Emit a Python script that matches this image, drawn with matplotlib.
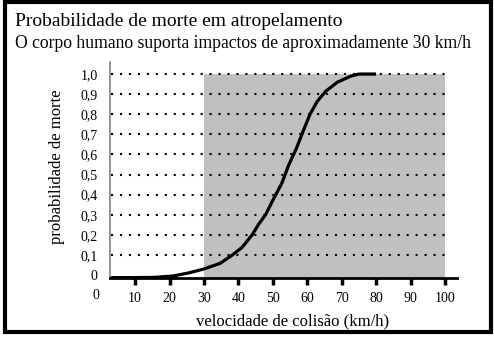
import matplotlib.pyplot as plt
from matplotlib.patches import Rectangle
from matplotlib.transforms import blended_transform_factory

# Datos
velocidade = [3, 10, 15.5, 21, 25.5, 30, 34.7, 38.3, 41.1, 44, 45.9, 47.9, 50, 52.6, 54.6,
              56.9, 58.9, 60.8, 62.9, 65.4, 68.8, 72.7, 75, 80]
probabilidade = [-0.013, -0.013, -0.012, -0.005, 0.01, 0.03, 0.058, 0.1, 0.138, 0.2, 0.253, 0.3,
                 0.372, 0.456, 0.547, 0.632, 0.72, 0.8, 0.864, 0.915, 0.96, 0.99, 1.0, 1.0]
faixa_perigo = (30, 100)
niveis = [0.1, 0.2, 0.3, 0.4, 0.5, 0.6, 0.7, 0.8, 0.9, 1.0]
rotulos_y = ["0", "0,1", "0,2", "0,3", "0,4", "0,5", "0,6", "0,7", "0,8", "0,9", "1,0"]
ticks_x = [10, 20, 30, 40, 50, 60, 70, 80, 90, 100]

plt.rcParams['font.family'] = ['Liberation Serif', 'DejaVu Serif']

W, H = 494, 338
fig = plt.figure(figsize=(W / 100, H / 100), dpi=100)
ax = fig.add_axes([110 / W, (H - 278) / H, 347 / W, 216 / H])

ax.set_xlim(2.7, 103.5)
ax.set_ylim(-0.015, 1.06)

# zona sombreada (> 30 km/h)
ax.fill_between(faixa_perigo, -0.015, 1.0, color='#c0c0c0', lw=0, zorder=0)

# líneas punteadas
for n in niveis:
    ax.plot([3, 100.5], [n, n], color='black', lw=1.5, linestyle=(0, (1, 3.3)), zorder=1)

# curva
ax.plot(velocidade, probabilidade, color='black', lw=2.3, solid_joinstyle='round',
        solid_capstyle='butt', zorder=3)

# ejes
for lado in ['top', 'right']:
    ax.spines[lado].set_visible(False)
ax.spines['left'].set_color('#808080')
ax.spines['left'].set_linewidth(1.2)
ax.spines['bottom'].set_color('black')
ax.spines['bottom'].set_linewidth(2)

ax.set_xticks(ticks_x)
ax.set_xticklabels([str(t) for t in ticks_x], fontsize=10)
ax.tick_params(axis='x', direction='out', length=5, width=2.5, pad=5)
ax.set_yticks([0] + niveis)
ax.set_yticklabels(rotulos_y, fontsize=10)
ax.tick_params(axis='y', length=0, pad=9)

# el "0" del eje x, a la izquierda del origen del eje
trans = blended_transform_factory(ax.transData, ax.transAxes)
ax.text(-1.3, -0.083, "0", transform=trans, fontsize=10, ha='center', va='center')

fig.text(293 / W, 1 - 321 / H, "velocidade de colisão (km/h)", fontsize=12, ha='center', va='center')
fig.text(57 / W, 1 - 167 / H, "probabilidade de morte", fontsize=12, ha='center', va='center',
         rotation=90)

fig.text(15 / W, 1 - 21 / H, "Probabilidade de morte em atropelamento", fontsize=14,
         ha='left', va='center')
fig.text(15 / W, 1 - 44 / H, "O corpo humano suporta impactos de aproximadamente 30 km/h",
         fontsize=12.7, ha='left', va='center')

# marco exterior
fig.add_artist(Rectangle((5 / W, 6 / H), 486 / W, 330 / H, transform=fig.transFigure,
                         fill=False, edgecolor='black', lw=3))

fig.savefig("out.png", dpi=100)
